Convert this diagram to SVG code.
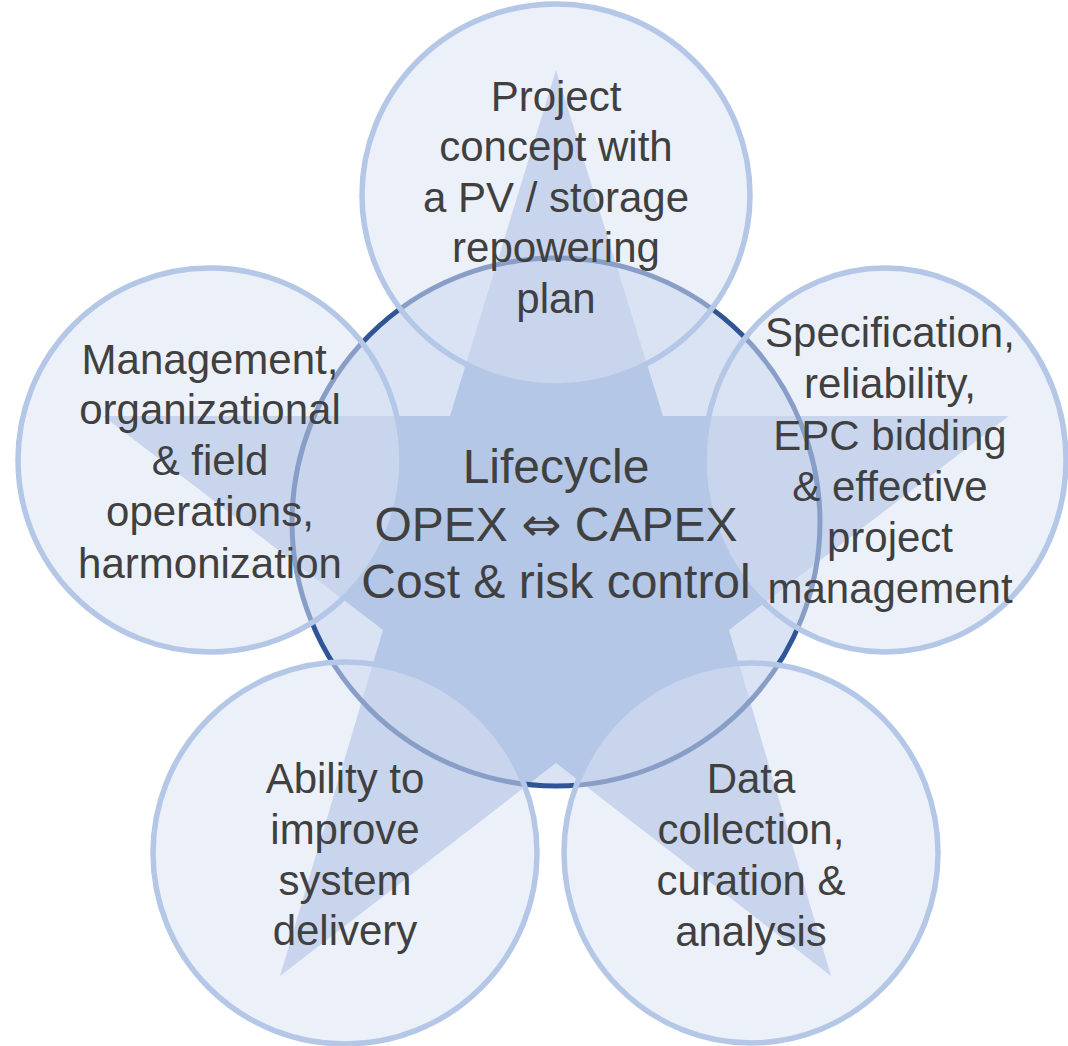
<svg xmlns="http://www.w3.org/2000/svg" width="1068" height="1046" viewBox="0 0 1068 1046">
<defs>
<style>
.bg{fill:#FFFFFF}
.cfill{fill:#DAE3F3}
.star{fill:#B4C7E7}
.ring{fill:none;stroke:#2F5597;stroke-width:5}
.outer{fill:#DAE3F3;fill-opacity:0.52;stroke:#B4C7E7;stroke-width:5.5}
.t{font-family:"Liberation Sans",Arial,"DejaVu Sans",sans-serif;font-size:42px;fill:#404040;text-anchor:middle}
.tc{font-family:"Liberation Sans",Arial,"DejaVu Sans",sans-serif;font-size:48px;fill:#404040;text-anchor:middle}
.sym{font-family:"DejaVu Sans",sans-serif;font-weight:normal}
</style>
</defs>
<rect class="bg" x="0" y="0" width="1068" height="1046"/>
<g id="center-background">
<circle class="cfill" cx="556" cy="522" r="264"/>
</g>
<g id="star">
<polygon class="star" points="556,70 663,416 1009,416 729,630 831,976 556,763 280,976 383,630 103,416 450,416"/>
</g>
<g id="center-ring">
<circle class="ring" cx="556" cy="522" r="264"/>
</g>
<g id="connectors"></g>
<g id="node-top">
<ellipse class="outer" cx="556" cy="195" rx="194" ry="191"/>
<text class="t" x="556" y="111">Project</text>
<text class="t" x="556" y="161">concept with</text>
<text class="t" x="556" y="212">a PV / storage</text>
<text class="t" x="556" y="262">repowering</text>
<text class="t" x="556" y="313">plan</text>
</g>
<g id="node-left">
<ellipse class="outer" cx="210" cy="460" rx="192" ry="192"/>
<text class="t" x="210" y="374">Management,</text>
<text class="t" x="210" y="424">organizational</text>
<text class="t" x="210" y="475">&amp; field</text>
<text class="t" x="210" y="526">operations,</text>
<text class="t" x="210" y="578">harmonization</text>
</g>
<g id="node-right">
<ellipse class="outer" cx="885" cy="460" rx="181" ry="192"/>
<text class="t" x="890" y="347">Specification,</text>
<text class="t" x="890" y="398">reliability,</text>
<text class="t" x="890" y="450">EPC bidding</text>
<text class="t" x="890" y="501">&amp; effective</text>
<text class="t" x="890" y="552">project</text>
<text class="t" x="890" y="603">management</text>
</g>
<g id="node-bottom-left">
<ellipse class="outer" cx="345" cy="853" rx="192" ry="191"/>
<text class="t" x="345" y="793">Ability to</text>
<text class="t" x="345" y="844">improve</text>
<text class="t" x="345" y="895">system</text>
<text class="t" x="345" y="945">delivery</text>
</g>
<g id="node-bottom-right">
<ellipse class="outer" cx="751" cy="853" rx="187" ry="190"/>
<text class="t" x="751" y="793">Data</text>
<text class="t" x="751" y="844">collection,</text>
<text class="t" x="751" y="895">curation &amp;</text>
<text class="t" x="751" y="946">analysis</text>
</g>
<g id="node-center">
<text class="tc" x="556" y="483">Lifecycle</text>
<text class="tc" x="556" y="541">OPEX <tspan class="sym">⇔</tspan> CAPEX</text>
<text class="tc" x="556" y="598">Cost &amp; risk control</text>
</g>
</svg>
